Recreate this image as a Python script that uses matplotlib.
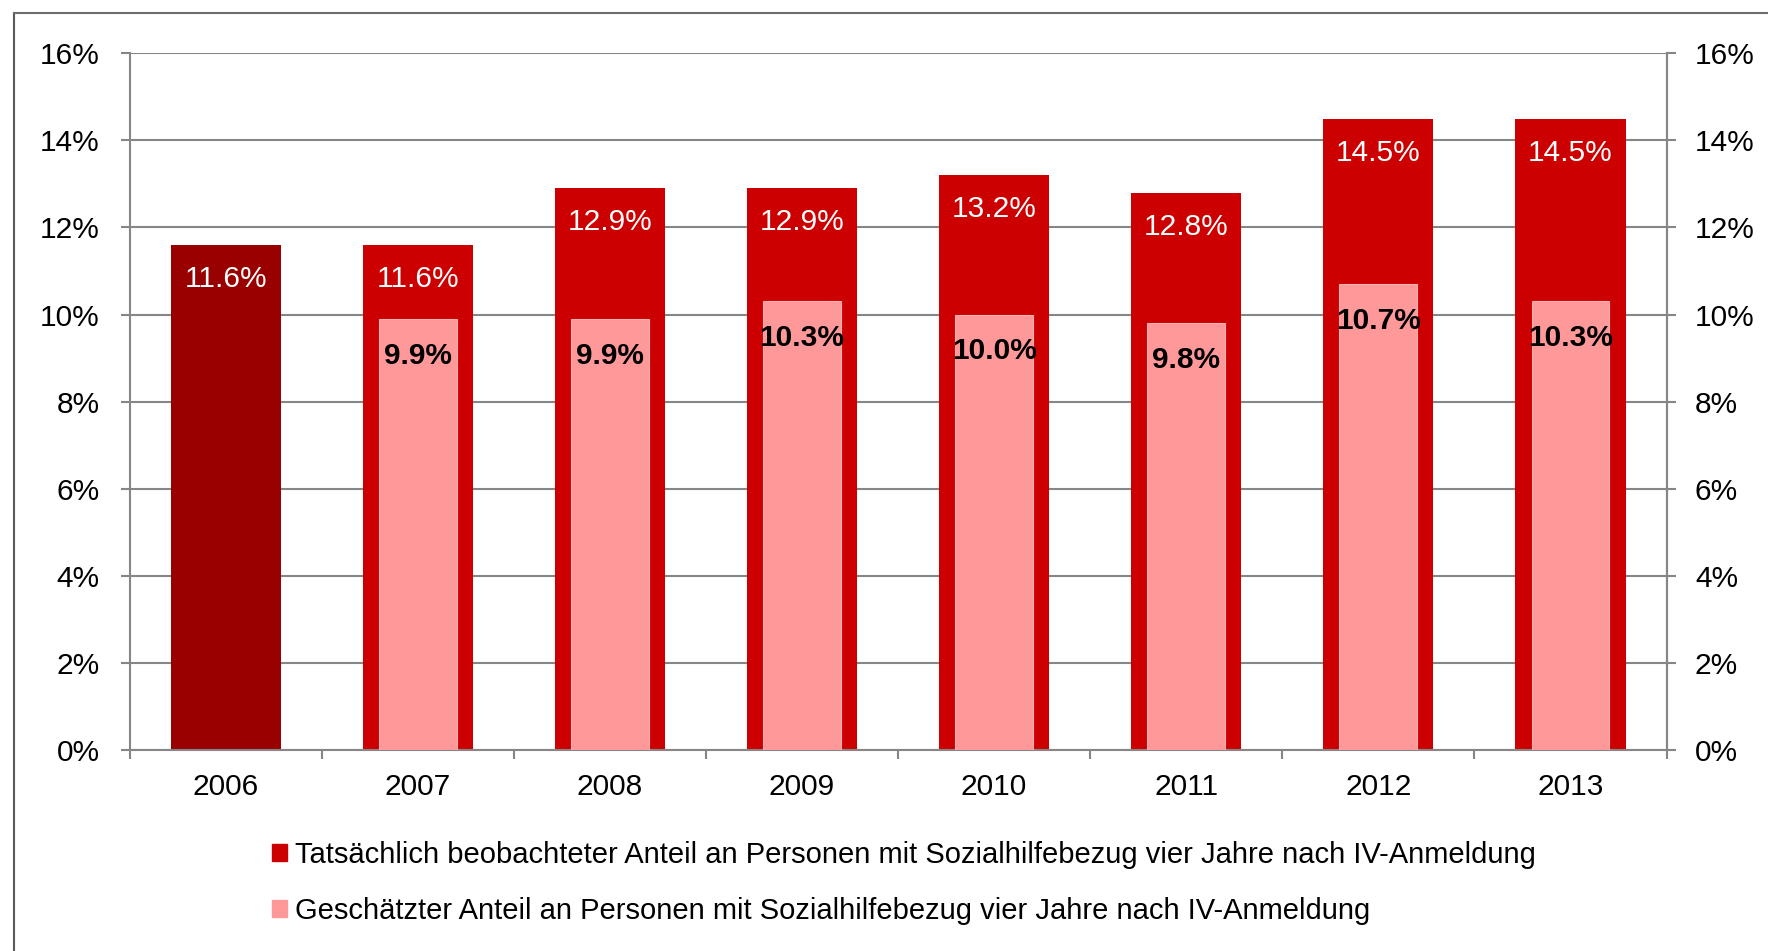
import matplotlib
matplotlib.use("Agg")
import matplotlib.pyplot as plt
from matplotlib.patches import Patch
from matplotlib.ticker import FixedLocator, FuncFormatter
import numpy as np

plt.rcParams['font.family'] = ['Liberation Sans', 'DejaVu Sans']

years = ["2006", "2007", "2008", "2009", "2010", "2011", "2012", "2013"]
observed = [11.6, 11.6, 12.9, 12.9, 13.2, 12.8, 14.5, 14.5]
estimated = [None, 9.9, 9.9, 10.3, 10.0, 9.8, 10.7, 10.3]
legend_labels = [
    "Tatsächlich beobachteter Anteil an Personen mit Sozialhilfebezug vier Jahre nach IV-Anmeldung",
    "Geschätzter Anteil an Personen mit Sozialhilfebezug vier Jahre nach IV-Anmeldung",
]
yticks = [0, 2, 4, 6, 8, 10, 12, 14, 16]

RED = "#CC0000"
DARK = "#990000"
PINK = "#FF9999"
GRID = "#868686"
FS = 21.5

fig = plt.figure(figsize=(17.68, 9.51), dpi=100)
ax = fig.add_axes([0.0733, 0.2114, 0.8693, 0.7326])

x = np.arange(len(years))
colors = [DARK] + [RED] * (len(years) - 1)
ax.bar(x, observed, width=0.573, color=colors, zorder=2)
est_x = [xi for xi, v in zip(x, estimated) if v is not None]
est_v = [v for v in estimated if v is not None]
ax.bar(est_x, est_v, width=0.405, color=PINK, edgecolor="#FFB0B0", linewidth=0.8, zorder=3)

for xi, v in zip(x, observed):
    ax.annotate(f"{v:.1f}%", (xi, v), xytext=(0, -24.5), textcoords="offset points",
                ha="center", va="center", color="white", fontsize=FS, zorder=5)
for xi, v in zip(est_x, est_v):
    ax.annotate(f"{v:.1f}%", (xi, v), xytext=(0, -26.5), textcoords="offset points",
                ha="center", va="center", color="black", fontsize=FS,
                fontweight="bold", zorder=5)

ax.set_xlim(-0.5, len(years) - 0.5)
ax.set_ylim(0, 16)
pct = FuncFormatter(lambda v, p: f"{v:.0f}%")
ax.yaxis.set_major_locator(FixedLocator(yticks))
ax.yaxis.set_major_formatter(pct)
ax.grid(axis="y", color=GRID, linewidth=1.5, zorder=0)
ax.set_axisbelow(True)

ax.set_xticks(x)
ax.set_xticklabels(years)
ax.set_xticks(np.arange(-0.5, len(years)), minor=True)
ax.tick_params(axis="x", which="major", length=0, pad=16.5, labelsize=FS)
ax.tick_params(axis="x", which="minor", length=6.5, width=1.5, color=GRID)
ax.tick_params(axis="y", length=6.5, width=1.5, color=GRID, pad=15, labelsize=FS)

ax.spines["top"].set_visible(False)
for s in ["left", "right", "bottom"]:
    ax.spines[s].set_color(GRID)
    ax.spines[s].set_linewidth(1.5)

ax2 = ax.twinx()
ax2.set_ylim(0, 16)
ax2.yaxis.set_major_locator(FixedLocator(yticks))
ax2.yaxis.set_major_formatter(pct)
ax2.tick_params(axis="y", length=6.5, width=1.5, color=GRID, pad=14, labelsize=FS)
for s in ["top", "left", "bottom"]:
    ax2.spines[s].set_visible(False)
ax2.spines["right"].set_color(GRID)
ax2.spines["right"].set_linewidth(1.5)

handles = [Patch(color=RED), Patch(color=PINK)]
fig.legend(handles, legend_labels, loc="upper left", bbox_to_anchor=(0.1538, 0.1154),
           frameon=False, fontsize=21, handlelength=0.52, handleheight=0.52,
           handletextpad=0.28, labelspacing=0.96, borderpad=0, borderaxespad=0)

# outer chart frame (top and left edges visible)
fig.add_artist(plt.Line2D([13.5 / 1768, 13.5 / 1768], [0, 1 - 12.5 / 951],
                          transform=fig.transFigure, color="#595959", linewidth=1.5))
fig.add_artist(plt.Line2D([13.5 / 1768, 1], [1 - 12.5 / 951, 1 - 12.5 / 951],
                          transform=fig.transFigure, color="#6E6E6E", linewidth=1.5))

fig.savefig("out.png", dpi=100)
